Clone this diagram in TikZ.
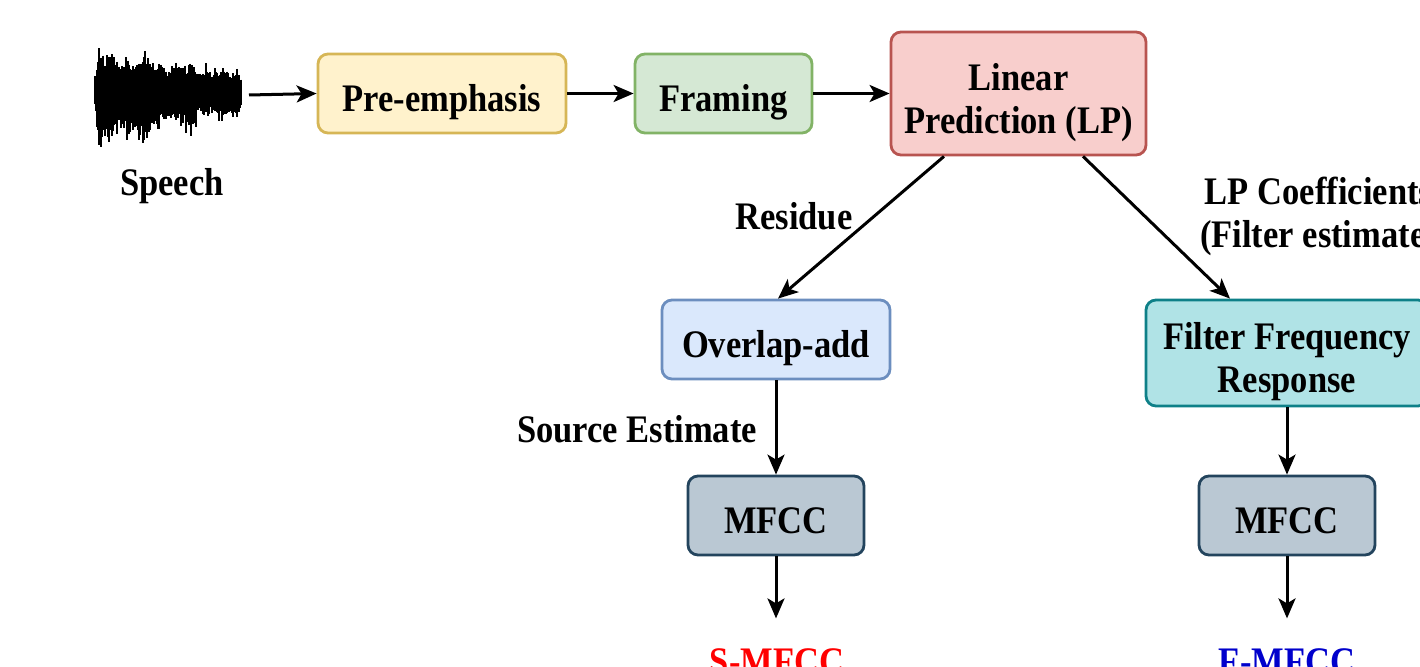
\documentclass[tikz,border=0pt]{standalone}
\usepackage{fontspec}
\setmainfont{Liberation Serif}[FakeStretch=0.885]
\usetikzlibrary{arrows.meta}
\definecolor{yfill}{HTML}{FFF2CC}\definecolor{ystroke}{HTML}{D6B656}
\definecolor{gfill}{HTML}{D5E8D4}\definecolor{gstroke}{HTML}{82B366}
\definecolor{rfill}{HTML}{F8CECC}\definecolor{rstroke}{HTML}{B85450}
\definecolor{bfill}{HTML}{DAE8FC}\definecolor{bstroke}{HTML}{6C8EBF}
\definecolor{tfill}{HTML}{B0E3E6}\definecolor{tstroke}{HTML}{0E8088}
\definecolor{sfill}{HTML}{BAC8D3}\definecolor{sstroke}{HTML}{23445D}
\definecolor{fblue}{HTML}{0000CC}
\tikzset{
  box/.style={draw, rounded corners=10pt, line width=2.8pt, inner sep=0pt, align=center,
    font=\fontsize{39}{43}\selectfont\bfseries, text height=36pt, text depth=0pt},
  boxtwo/.style={box, text height=79pt, text depth=0pt},
  lbl/.style={inner sep=0pt, align=center, font=\fontsize{39}{43}\selectfont\bfseries},
  arr/.style={line width=3pt, -{Stealth[length=20pt,width=17pt,inset=5pt]}},
}
\begin{document}
\begin{tikzpicture}[x=1pt,y=-1pt]
\useasboundingbox (0,0) rectangle (1420,666);
\fill[white] (0,0) rectangle (1420,666);
\clip (0,0) rectangle (1420,666);
% waveform
\pgfmathsetseed{11}
\foreach \i in {0,...,146}{
  \pgfmathsetmacro\t{\i/146}
  \pgfmathsetmacro\s{min(1,0.3+\i/5)}
  \pgfmathsetmacro\m{\s*(1+0.14*sin(\i*9)+0.1*sin(\i*23+40))}
  \pgfmathsetmacro\up{(38-21*\t)*\m*(0.62+0.38*rnd)+9*rnd^10}
  \pgfmathsetmacro\dn{(52-32*\t)*\m*(0.58+0.42*rnd)+10*rnd^10}
  \draw[line width=1.2pt] (95+\i, 92-\up) -- (95+\i, 92+\dn);
}
\coordinate (wv) at (249,95);
\node[lbl, anchor=base] (speech) at (172,195) {Speech};
% boxes
\node[box, fill=yfill, draw=ystroke, minimum width=248pt, minimum height=79pt] (pre) at (442,93.5) {Pre-emphasis};
\node[box, fill=gfill, draw=gstroke, minimum width=177pt, minimum height=79pt] (fr) at (723.5,93.5) {Framing};
\node[boxtwo, fill=rfill, draw=rstroke, minimum width=255pt, minimum height=123pt] (lp) at (1018.5,93.5) {Linear\\Prediction (LP)};
\node[box, fill=bfill, draw=bstroke, minimum width=228pt, minimum height=79pt] (ov) at (776,339.5) {Overlap-add};
\node[boxtwo, fill=tfill, draw=tstroke, minimum width=282pt, minimum height=106pt] (ff) at (1287,353) {Filter Frequency\\Response};
\node[box, fill=sfill, draw=sstroke, minimum width=176pt, minimum height=79pt] (m1) at (776,515.5) {MFCC};
\node[box, fill=sfill, draw=sstroke, minimum width=176pt, minimum height=79pt] (m2) at (1287,515.5) {MFCC};
\node[lbl, anchor=base, text=red] (smf) at (777,674) {S-MFCC};
\node[lbl, anchor=base, text=fblue] (fmf) at (1287,674) {F-MFCC};
% labels
\node[lbl] (res) at (794,216) {Residue};
\node[lbl] (src) at (637,429) {Source Estimate};
\node[lbl] (lpc) at (1318.5,216.5) {LP Coefficients\\(Filter estimate)};
% arrows
\draw[arr] (wv) -- (pre.west);
\draw[arr] (pre.east) -- (fr.west);
\draw[arr] (fr.east) -- (lp.west |- fr.east);
\draw[arr] ([xshift=-74.5pt]lp.south) -- ([xshift=2pt]ov.north);
\draw[arr] ([xshift=64.5pt]lp.south) -- ([xshift=-57pt]ff.north);
\draw[arr] (ov.south) -- (m1.north);
\draw[arr] (ff.south) -- (m2.north);
\draw[arr] (m1.south) -- ([yshift=-62pt]m1.south);
\draw[arr] (m2.south) -- ([yshift=-62pt]m2.south);
\end{tikzpicture}
\end{document}
